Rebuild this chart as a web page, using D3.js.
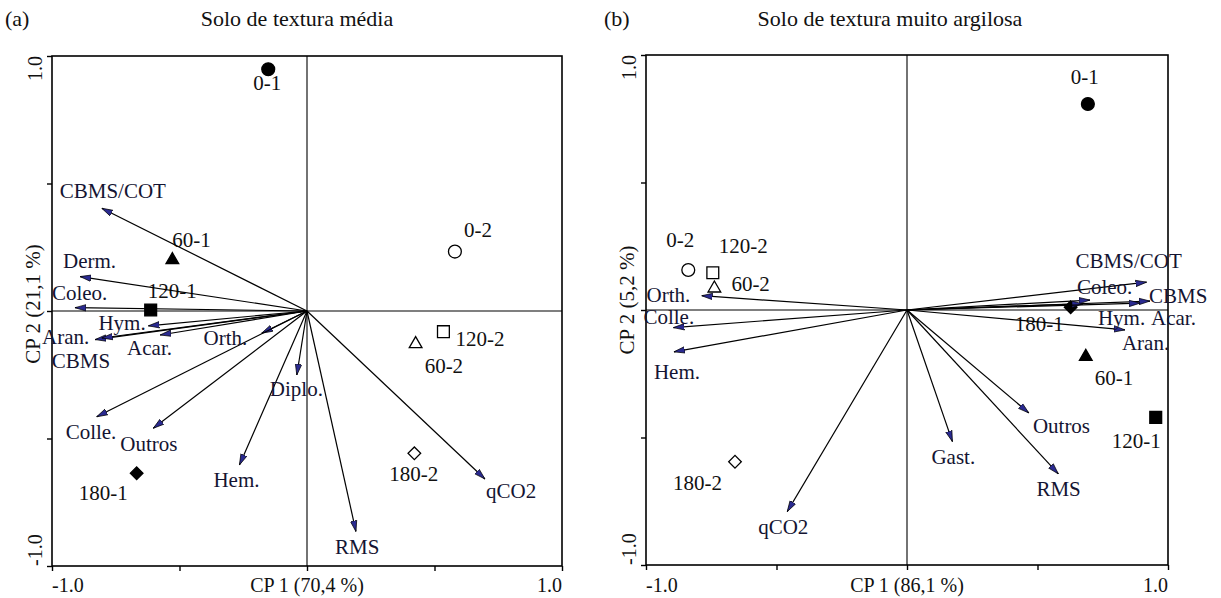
<!DOCTYPE html>
<html>
<head>
<meta charset="utf-8">
<script src="https://d3js.org/d3.v7.min.js"></script>
<style>
  body { margin: 0; background: #fff; }
  text { font-family: "Liberation Serif", "Times New Roman", serif; fill: #111; }
</style>
</head>
<body>
<script>
// ---- data, panel (a): solo de textura média ----
var varsA     = ["CBMS/COT", "Derm.", "Coleo.", "Hym.", "Aran.", "CBMS", "Acar.", "Orth.", "Colle.", "Outros", "Hem.", "Diplo.", "RMS", "qCO2"];
var varsA_cp1 = [-0.805, -0.890, -0.910, -0.622, -0.831, -0.805, -0.576, -0.178, -0.825, -0.603, -0.265, -0.040, 0.192, 0.698];
var varsA_cp2 = [ 0.403,  0.135,  0.013, -0.058, -0.112, -0.106, -0.094, -0.087, -0.415, -0.460, -0.604, -0.251, -0.865, -0.659];

var sitesA     = ["0-1", "60-1", "120-1", "180-1", "0-2", "60-2", "120-2", "180-2"];
var sitesA_cp1 = [-0.152, -0.528, -0.613, -0.668, 0.580, 0.426, 0.535, 0.421];
var sitesA_cp2 = [ 0.948,  0.200,  0.004, -0.636, 0.233, -0.129, -0.081, -0.558];

// ---- data, panel (b): solo de textura muito argilosa ----
var varsB     = ["CBMS/COT", "Coleo.", "CBMS", "Hym.", "Acar.", "Aran.", "Orth.", "Colle.", "Hem.", "Outros", "Gast.", "RMS", "qCO2"];
var varsB_cp1 = [0.918, 0.701, 0.931, 0.674, 0.893,  0.835, -0.787, -0.895, -0.893,  0.467,  0.174,  0.580, -0.459];
var varsB_cp2 = [0.109, 0.039, 0.035, 0.024, 0.027, -0.078,  0.056, -0.069, -0.164, -0.404, -0.516, -0.643, -0.791];

var sitesB     = ["0-1", "60-1", "120-1", "180-1", "0-2", "60-2", "120-2", "180-2"];
var sitesB_cp1 = [0.693,  0.685,  0.953, 0.627, -0.838, -0.738, -0.744, -0.659];
var sitesB_cp2 = [0.808, -0.183, -0.421, 0.011,  0.157,  0.085,  0.146, -0.595];

var axisTicks  = [-1, -0.5, 0, 0.5, 1];
var tickLabels = ["-1.0", "1.0"];

// ---- layout ----
var W = 1221, H = 598;

// label offsets in px from arrow tip / point: [dx, dy] to text start & baseline
var varNudgeA = [[-42,-10],[-17,-9],[-23,-8],[-50,4],[-53,4],[-50,30],[-33,20],[-58,12],[-31,22],[-33,23],[-26,22],[-27,21],[-21,22],[1,19]];
var siteNudgeA = [[-15,21],[0,-13],[-3,-12],[-58,27],[9,-15],[9,29],[12,14],[-25,28]];
var varNudgeB = [[-71,-14],[-13,-6],[-1,2],[15,21],[11,22],[-3,20],[-55,6],[-30,-4],[-20,27],[4,20],[-21,22],[-22,22],[-29,22]];
var siteNudgeB = [[-17,-20],[9,28],[-44,31],[-56,24],[-22,-23],[17,3],[6,-20],[-62,28]];

var panels = [
  { tag: "(a)", title: "Solo de textura média", xTitle: "CP 1 (70,4 %)", yTitle: "CP 2 (21,1 %)",
    x0: 52, x1: 562, y0: 56, y1: 566, tagX: 5, titleX: 297, yTitleY: 304,
    vars: varsA, v1: varsA_cp1, v2: varsA_cp2, vn: varNudgeA,
    sites: sitesA, s1: sitesA_cp1, s2: sitesA_cp2, sn: siteNudgeA },
  { tag: "(b)", title: "Solo de textura muito argilosa", xTitle: "CP 1 (86,1 %)", yTitle: "CP 2 (5,2 %)",
    x0: 646, x1: 1168, y0: 55, y1: 565, tagX: 604, titleX: 890, yTitleY: 300,
    vars: varsB, v1: varsB_cp1, v2: varsB_cp2, vn: varNudgeB,
    sites: sitesB, s1: sitesB_cp1, s2: sitesB_cp2, sn: siteNudgeB }
];

var svg = d3.select("body").append("svg")
  .attr("width", W)
  .attr("height", H);

svg.append("defs").append("marker")
  .attr("id", "head")
  .attr("viewBox", "0 -4 11 8")
  .attr("refX", 11)
  .attr("refY", 0)
  .attr("markerUnits", "userSpaceOnUse")
  .attr("markerWidth", 11)
  .attr("markerHeight", 8)
  .attr("orient", "auto")
  .append("path")
  .attr("d", "M0,-3.2L11,0L0,3.2Z")
  .attr("fill", "#2a2a90")
  .attr("stroke", "#000")
  .attr("stroke-width", 0.7);

function symbolFor(name) {
  var depth = name.split("-")[0];
  if (depth == "0") return d3.symbol().type(d3.symbolCircle).size(130)();
  if (depth == "60") return d3.symbol().type(d3.symbolTriangle).size(70)();
  if (depth == "120") return d3.symbol().type(d3.symbolSquare).size(140)();
  return d3.symbol().type(d3.symbolSquare).size(80)();
}

function drawPanel(p) {
  var g = svg.append("g");
  var x = d3.scaleLinear().domain([-1, 1]).range([p.x0, p.x1]);
  var y = d3.scaleLinear().domain([-1, 1]).range([p.y1, p.y0]);

  // titles
  g.append("text").attr("x", p.tagX).attr("y", 26).style("font-size", "22px").text(p.tag);
  g.append("text").attr("x", p.titleX).attr("y", 26).attr("text-anchor", "middle")
    .style("font-size", "22px").text(p.title);

  // ticks (outward, no labels from the axis itself)
  var bx = g.append("g").attr("transform", "translate(0," + p.y1 + ")")
    .call(d3.axisBottom(x).tickValues(axisTicks).tickSize(5).tickFormat(""));
  var by = g.append("g").attr("transform", "translate(" + p.x0 + ",0)")
    .call(d3.axisLeft(y).tickValues(axisTicks).tickSize(5).tickFormat(""));
  bx.select(".domain").remove();
  by.select(".domain").remove();
  g.selectAll(".tick line").attr("stroke", "#000").attr("stroke-width", 1.4);

  // frame and centre lines
  g.append("rect")
    .attr("x", p.x0).attr("y", p.y0)
    .attr("width", p.x1 - p.x0).attr("height", p.y1 - p.y0)
    .attr("fill", "none").attr("stroke", "#000").attr("stroke-width", 1.6);
  g.append("line").attr("x1", x(0)).attr("x2", x(0)).attr("y1", p.y0).attr("y2", p.y1)
    .attr("stroke", "#000").attr("stroke-width", 1.1);
  g.append("line").attr("x1", p.x0).attr("x2", p.x1).attr("y1", y(0)).attr("y2", y(0))
    .attr("stroke", "#000").attr("stroke-width", 1.1);

  // tick labels
  g.append("text").attr("x", x(-1)).attr("y", 592).style("font-size", "20px").text(tickLabels[0]);
  g.append("text").attr("x", x(1)).attr("y", 592).attr("text-anchor", "end").style("font-size", "20px").text(tickLabels[1]);
  g.append("text").attr("transform", "translate(" + (p.x0 - 10) + "," + y(-1) + ") rotate(-90)")
    .style("font-size", "20px").text(tickLabels[0]);
  g.append("text").attr("transform", "translate(" + (p.x0 - 10) + "," + y(1) + ") rotate(-90)")
    .attr("text-anchor", "end").style("font-size", "20px").text(tickLabels[1]);

  // axis titles
  g.append("text").attr("x", x(0)).attr("y", 592).attr("text-anchor", "middle")
    .style("font-size", "20px").text(p.xTitle);
  g.append("text").attr("transform", "translate(" + (p.x0 - 12) + "," + p.yTitleY + ") rotate(-90)")
    .attr("text-anchor", "middle").style("font-size", "21px").text(p.yTitle);

  // sites
  var sites = p.sites.map(function (n, i) { return { name: n, c1: p.s1[i], c2: p.s2[i], nudge: p.sn[i] }; });
  g.selectAll(".site").data(sites).join("path")
    .attr("class", "site")
    .attr("d", function (d) { return symbolFor(d.name); })
    .attr("transform", function (d) {
      var r = d.name.indexOf("180") == 0 ? " rotate(45)" : "";
      return "translate(" + x(d.c1) + "," + y(d.c2) + ")" + r;
    })
    .attr("fill", function (d) { return /-1$/.test(d.name) ? "#000" : "#fff"; })
    .attr("stroke", "#000")
    .attr("stroke-width", 1.3);
  g.selectAll(".siteLabel").data(sites).join("text")
    .attr("class", "siteLabel")
    .attr("x", function (d) { return x(d.c1) + d.nudge[0]; })
    .attr("y", function (d) { return y(d.c2) + d.nudge[1]; })
    .style("font-size", "21px")
    .text(function (d) { return d.name; });

  // loading arrows
  var vars = p.vars.map(function (n, i) { return { name: n, c1: p.v1[i], c2: p.v2[i], nudge: p.vn[i] }; });
  g.selectAll(".arrow").data(vars).join("line")
    .attr("class", "arrow")
    .attr("x1", x(0)).attr("y1", y(0))
    .attr("x2", function (d) { return x(d.c1); })
    .attr("y2", function (d) { return y(d.c2); })
    .attr("stroke", "#000")
    .attr("stroke-width", 1.2)
    .attr("marker-end", "url(#head)");
  g.selectAll(".varLabel").data(vars).join("text")
    .attr("class", "varLabel")
    .attr("x", function (d) { return x(d.c1) + d.nudge[0]; })
    .attr("y", function (d) { return y(d.c2) + d.nudge[1]; })
    .style("font-size", "21px")
    .style("fill", "#141432")
    .text(function (d) { return d.name; });
}

panels.forEach(drawPanel);
</script>
</body>
</html>
